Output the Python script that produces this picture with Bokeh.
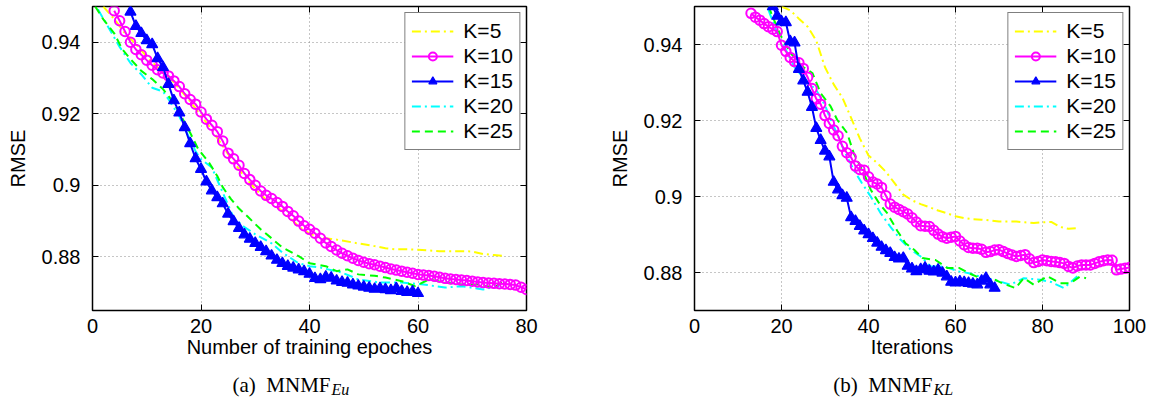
from bokeh.plotting import figure
from bokeh.layouts import row, column
from bokeh.models import (Range1d, LinearAxis, FixedTicker, Legend, LegendItem,
                          CustomJSTickFormatter)
from bokeh.embed import file_html
from bokeh.resources import INLINE
from bokeh.core.properties import value

# ---------------- data: (a) MNMF_Eu ----------------
a_k5_x = [2, 4, 6, 8, 10, 12, 14, 16, 18, 20, 22, 24, 26, 28, 30, 32, 34, 36, 38, 40,
          42, 44, 46, 48, 50, 52, 54, 56, 58, 60, 62, 64, 66, 68, 70, 72, 74, 76]
a_k5_y = [.9500, .9465, .9425, .9395, .9360, .9330, .9305, .9270, .9235, .9195, .9155,
          .9110, .9065, .9025, .8990, .8960, .8940, .8915, .8885, .8865, .8854, .8850,
          .8846, .8840, .8835, .8830, .8824, .8821, .8821, .8820, .8818, .8816, .8816,
          .8816, .8815, .8808, .8805, .8802]

a_k10_x = list(range(4, 81))
a_k10_y = [.9488, .9460, .9430, .9400, .9380, .9365, .9350, .9336, .9323, .9314, .9306,
           .9292, .9276, .9256, .9240, .9227, .9205, .9185, .9168, .9150, .9124, .9090,
           .9074, .9056, .9033, .9016, .9000, .8984, .8972, .8963, .8952, .8941, .8927,
           .8915, .8900, .8887, .8877, .8866, .8852, .8839, .8829, .8819, .8810, .8803,
           .8796, .8790, .8785, .8781, .8778, .8774, .8770, .8766, .8763, .8760, .8757,
           .8754, .8751, .8749, .8748, .8746, .8743, .8740, .8738, .8737, .8735, .8734,
           .8732, .8730, .8728, .8727, .8726, .8725, .8724, .8723, .8721, .8715, .8709]

a_k15_x = list(range(7, 61))
a_k15_y = [.9485, .9445, .9425, .9405, .9394, .9355, .9330, .9283, .9237, .9203, .9162,
           .9117, .9075, .9045, .9010, .8985, .8966, .8949, .8920, .8899, .8880, .8862,
           .8850, .8838, .8827, .8815, .8803, .8791, .8782, .8774, .8769, .8764, .8759,
           .8752, .8740, .8737, .8744, .8741, .8733, .8729, .8727, .8722, .8719, .8716,
           .8713, .8710, .8712, .8709, .8706, .8712, .8704, .8701, .8703, .8698]

a_k20_x = [1, 3, 5, 7, 9, 11, 13, 14, 16, 17, 19, 20, 22, 24, 26, 28, 30, 33, 35, 38,
           40, 42, 46, 49, 53, 57, 61, 65, 68, 72, 75]
a_k20_y = [.9492, .9440, .9387, .9342, .9310, .9273, .9262, .9241, .9193, .9160, .9095,
           .9073, .9050, .8980, .8910, .8883, .8863, .8838, .8812, .8782, .8774, .8770,
           .8756, .8737, .8728, .8728, .8723, .8714, .8718, .8709, .8718]

a_k25_x = [0.5, 2, 4, 5.5, 7, 9, 11, 13, 15, 16.5, 18, 19.5, 21.5, 23, 24, 25.5, 27, 28.5,
           31, 33, 35, 38, 40, 43, 45, 47, 49, 52, 54, 57, 59.5, 62, 65, 68, 71, 74, 75.5]
a_k25_y = [.9500, .9464, .9425, .9380, .9353, .9320, .9297, .9269, .9230, .9189, .9147,
           .9101, .9063, .9026, .8995, .8962, .8935, .8914, .8877, .8852, .8826, .8802,
           .8782, .8774, .8760, .8765, .8751, .8747, .8742, .8732, .8718, .8737, .8728,
           .8723, .8723, .8714, .8728]

# ---------------- data: (b) MNMF_KL ----------------
b_k5_x = [20, 22, 24, 26, 28, 30, 32, 34, 36, 38, 40, 42, 44, 46, 48, 50, 52, 54, 56, 58,
          60, 62, 64, 66, 68, 70, 72, 74, 76, 78, 80, 82, 84, 86, 88]
b_k5_y = [.9500, .9490, .9468, .9447, .9410, .9340, .9295, .9260, .9207, .9153, .9108,
          .9088, .9065, .9035, .9005, .8990, .8980, .8972, .8963, .8956, .8948, .8943,
          .8940, .8939, .8937, .8934, .8934, .8934, .8932, .8930, .8932, .8933, .8920,
          .8915, .8917]

b_k10_x = list(range(13, 101))
b_k10_y = [.9482, .9472, .9464, .9455, .9447, .9440, .9434, .9398, .9382, .9366, .9355,
           .9352, .9337, .9314, .9284, .9257, .9243, .9213, .9192, .9175, .9160, .9132,
           .9115, .9103, .9080, .9071, .9069, .9052, .9038, .9033, .9024, .9002, .8980,
           .8972, .8966, .8960, .8954, .8944, .8933, .8923, .8922, .8921, .8911, .8901,
           .8894, .8890, .8893, .8895, .8883, .8873, .8866, .8864, .8864, .8861, .8853,
           .8855, .8859, .8860, .8855, .8850, .8846, .8842, .8845, .8847, .8836, .8826,
           .8829, .8833, .8831, .8829, .8828, .8826, .8824, .8816, .8812, .8817, .8820,
           .8820, .8820, .8824, .8828, .8831, .8833, .8832, .8807, .8809, .8811, .8813]

b_k15_x = list(range(18, 70))
b_k15_y = [.9500, .9475, .9460, .9458, .9408, .9405, .9335, .9305, .9275, .9235, .9180,
           .9148, .9120, .9105, .9038, .9018, .9003, .8996, .8945, .8935, .8922, .8910,
           .8900, .8890, .8878, .8867, .8858, .8851, .8840, .8836, .8838, .8817, .8810,
           .8803, .8808, .8812, .8804, .8802, .8807, .8799, .8789, .8775, .8773, .8776,
           .8774, .8772, .8770, .8768, .8778, .8785, .8768, .8759]

b_k20_x = [17, 19, 21, 23, 25.5, 28, 30, 31.3, 33, 34.3, 36.6, 38.5, 40.5, 42.8, 45, 47.4,
           49.7, 52, 54.3, 57.3, 60.8, 63.1, 65.7, 68.8, 72.6, 75.7, 79.5, 82, 84.9, 88]
b_k20_y = [.9491, .9430, .9386, .9340, .9307, .9280, .9240, .9202, .9160, .9123, .9070,
           .9035, .9000, .8956, .8921, .8886, .8860, .8842, .8816, .8816, .8803, .8798,
           .8789, .8781, .8768, .8785, .8781, .8775, .8759, .8790]

b_k25_x = [17, 19.7, 22.1, 24.8, 27.1, 29, 31.3, 32.8, 35.1, 36.6, 38.9, 40.5, 42.4, 44.3,
           46.6, 48.5, 50.5, 52.4, 55.4, 58.1, 60.8, 63.1, 65.7, 68.4, 70.7, 73.8, 75.7,
           78, 81.1, 84.1, 86.4, 88.7, 90]
b_k25_y = [.9500, .9426, .9377, .9342, .9325, .9272, .9237, .9202, .9167, .9114, .9062,
           .9018, .8983, .8956, .8910, .8877, .8860, .8838, .8833, .8812, .8812, .8798,
           .8785, .8785, .8772, .8759, .8785, .8768, .8790, .8772, .8772, .8790, .8785]

y_ticks = [0.88, 0.90, 0.92, 0.94]
a_x_ticks = [0, 20, 40, 60, 80]
b_x_ticks = [0, 20, 40, 60, 80, 100]
legend_labels = ["K=5", "K=10", "K=15", "K=20", "K=25"]
captions = [("(a)\u00a0\u00a0MNMF", "Eu"), ("(b)\u00a0\u00a0MNMF", "KL")]

FONT = "Liberation Sans"
SERIF = "Liberation Serif"
YELLOW, MAGENTA, BLUE, CYAN, GREEN = "#FFFF00", "#FF00FF", "#0000FF", "#00FFFF", "#00FF00"


def style_axis(ax, ticks, show_labels=True):
    ax.ticker = FixedTicker(ticks=ticks)
    ax.major_tick_in = 6
    ax.major_tick_out = 0
    ax.minor_tick_in = 0
    ax.minor_tick_out = 0
    ax.major_tick_line_color = "black"
    ax.major_tick_line_width = 1
    ax.axis_line_color = None
    if show_labels:
        ax.major_label_text_font = FONT
        ax.major_label_text_font_size = "20px"
        ax.major_label_text_color = "black"
    else:
        ax.formatter = CustomJSTickFormatter(code="return '';")
        ax.major_label_standoff = 0


def make_fig(xr, yr, xticks, xlabel, bl, br, series):
    p = figure(width=580, height=366, x_range=Range1d(*xr), y_range=Range1d(*yr),
               output_backend="svg", toolbar_location=None,
               min_border_left=bl, min_border_right=br, min_border_top=6,
               min_border_bottom=56)
    p.outline_line_color = "black"
    p.outline_line_width = 1.5
    p.background_fill_color = "white"
    p.border_fill_color = "white"

    xa = p.xaxis[0]
    ya = p.yaxis[0]
    style_axis(xa, xticks)
    style_axis(ya, y_ticks)
    ya.formatter = CustomJSTickFormatter(code="return String(Math.round(tick*100)/100);")
    xa.major_label_standoff = 8
    ya.major_label_standoff = 12
    xa.axis_label = xlabel
    ya.axis_label = "RMSE"
    for ax in (xa, ya):
        ax.axis_label_text_font = FONT
        ax.axis_label_text_font_size = "20px"
        ax.axis_label_text_font_style = "normal"
        ax.axis_label_text_color = "black"
    xa.axis_label_standoff = 0
    ya.axis_label_standoff = 10

    top = LinearAxis()
    style_axis(top, xticks, show_labels=False)
    p.add_layout(top, "above")
    right = LinearAxis()
    style_axis(right, y_ticks, show_labels=False)
    p.add_layout(right, "right")

    p.xgrid.ticker = FixedTicker(ticks=xticks)
    p.ygrid.ticker = FixedTicker(ticks=y_ticks)
    for g in (p.xgrid[0], p.ygrid[0]):
        g.grid_line_color = "#8c8c8c"
        g.grid_line_dash = "1 3"
        g.grid_line_width = 1

    (k5x, k5y), (k10x, k10y), (k15x, k15y), (k20x, k20y), (k25x, k25y) = series
    r5 = p.line(k5x, k5y, line_color=YELLOW, line_width=2, line_dash="9 4 2 4")
    r20 = p.line(k20x, k20y, line_color=CYAN, line_width=2, line_dash="9 4 2 4")
    r25 = p.line(k25x, k25y, line_color=GREEN, line_width=2, line_dash="8 5")
    r10l = p.line(k10x, k10y, line_color=MAGENTA, line_width=2)
    r10m = p.scatter(k10x, k10y, marker="circle", size=9.5, line_color=MAGENTA,
                     fill_color=None, line_width=2)
    r15l = p.line(k15x, k15y, line_color=BLUE, line_width=2)
    r15m = p.scatter(k15x, k15y, marker="triangle", size=11, line_color=BLUE,
                     fill_color=BLUE, line_width=1.2)

    items = [LegendItem(label=legend_labels[0], renderers=[r5]),
             LegendItem(label=legend_labels[1], renderers=[r10l, r10m]),
             LegendItem(label=legend_labels[2], renderers=[r15l, r15m]),
             LegendItem(label=legend_labels[3], renderers=[r20]),
             LegendItem(label=legend_labels[4], renderers=[r25])]
    leg = Legend(items=items, location="top_right")
    leg.margin = 6
    leg.padding = 6
    leg.spacing = 1
    leg.glyph_width = 42
    leg.glyph_height = 20
    leg.label_height = 20
    leg.label_standoff = 10
    leg.label_text_font = FONT
    leg.label_text_font_size = "21px"
    leg.label_text_color = "black"
    leg.border_line_color = "black"
    leg.border_line_width = 1.2
    leg.background_fill_color = "white"
    leg.background_fill_alpha = 1
    p.add_layout(leg)
    return p


p1 = make_fig((0, 80), (0.865, 0.95), a_x_ticks, "Number of training epoches", 92, 54,
              [(a_k5_x, a_k5_y), (a_k10_x, a_k10_y), (a_k15_x, a_k15_y),
               (a_k20_x, a_k20_y), (a_k25_x, a_k25_y)])
p2 = make_fig((0, 100), (0.87, 0.95), b_x_ticks, "Iterations", 114, 31,
              [(b_k5_x, b_k5_y), (b_k10_x, b_k10_y), (b_k15_x, b_k15_y),
               (b_k20_x, b_k20_y), (b_k25_x, b_k25_y)])

# caption strip below the two panels (pixel coordinates of the strip)
cap = figure(width=1160, height=36, x_range=Range1d(0, 1160), y_range=Range1d(0, 36),
             output_backend="svg", toolbar_location=None, x_axis_type=None,
             y_axis_type=None, min_border=0)
cap.outline_line_color = None
cap.background_fill_color = "white"
cap.border_fill_color = "white"
cap_x = [330, 932]
cap.text(x=cap_x, y=[18, 18], text=[c[0] for c in captions], text_font=value(SERIF),
         text_font_size="21px", text_align="right", text_baseline="middle",
         text_color="black")
cap.text(x=[v + 1 for v in cap_x], y=[13, 13], text=[c[1] for c in captions],
         text_font=value(SERIF), text_font_size="16px", text_font_style="italic",
         text_align="left", text_baseline="middle", text_color="black")

layout = column(row(p1, p2), cap)
open("out.html", "w").write(file_html(layout, INLINE))
